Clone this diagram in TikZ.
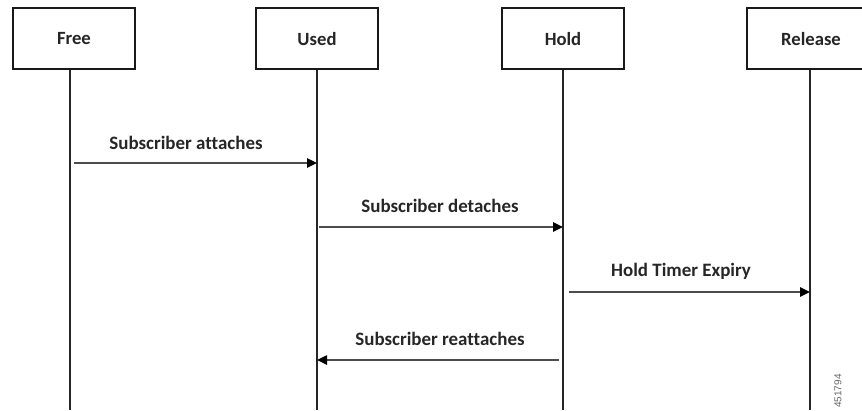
\documentclass[tikz,border=0pt]{standalone}
\usepackage{fontspec}
\setmainfont[Ligatures=NoCommon]{Carlito}
\newfontfamily\tagfont{Liberation Sans}
\usetikzlibrary{arrows.meta}
\tikzset{
  statebox/.style={draw=black!90, line width=1.6pt, minimum width=91.5pt, minimum height=45.5pt, inner sep=0pt, fill=white, font=\fontsize{14pt}{16pt}\selectfont\bfseries, text=black!85},
  life/.style={draw=black!85, line width=1.5pt},
  msg/.style={draw=black!70, line width=1.1pt, -{Triangle[length=7.5pt,width=7pt,color=black]}},
  lbl/.style={inner sep=0pt, font=\fontsize{14.2pt}{16pt}\selectfont\bfseries, text=black!85},
}
\begin{document}
\begin{tikzpicture}[x=0.75pt,y=-0.75pt]
\useasboundingbox (0,0) rectangle (862,410);
% lifelines
\coordinate (freeB) at (70,410);
\coordinate (usedB) at (317,410);
\coordinate (holdB) at (563,410);
\coordinate (relB) at (810,410);
\node[statebox] (free) at (74,38.75) {Free};
\node[statebox] (used) at (317,38.75) {Used};
\node[statebox] (hold) at (563,38.75) {Hold};
\node[statebox, minimum width=105pt] (rel) at (817,38.75) {\hspace*{-9pt}Release};
\draw[life] (free.south -| freeB) -- (freeB);
\draw[life] (used.south -| usedB) -- (usedB);
\draw[life] (hold.south -| holdB) -- (holdB);
\draw[life] (rel.south -| relB) -- (relB);
% messages
\coordinate (m1s) at (74,163);  \coordinate (m1e) at (317,163);
\coordinate (m2s) at (319,227); \coordinate (m2e) at (563,227);
\coordinate (m3s) at (569,292); \coordinate (m3e) at (810,292);
\coordinate (m4s) at (559,360); \coordinate (m4e) at (317,360);
\draw[msg] (m1s) -- (m1e);
\draw[msg] (m2s) -- (m2e);
\draw[msg] (m3s) -- (m3e);
\draw[msg] (m4s) -- (m4e);
\node[lbl] (l1) at (186,143) {Subscriber attaches};
\node[lbl] (l2) at (440,206) {Subscriber detaches};
\node[lbl] (l3) at (681,271) {Hold Timer Expiry};
\node[lbl] (l4) at (440,339) {Subscriber reattaches};
\node[rotate=90, inner sep=0pt, text=black!60, font=\tagfont\fontsize{7.5pt}{9pt}\selectfont] (tag) at (838,391) {451794};
\end{tikzpicture}
\end{document}
